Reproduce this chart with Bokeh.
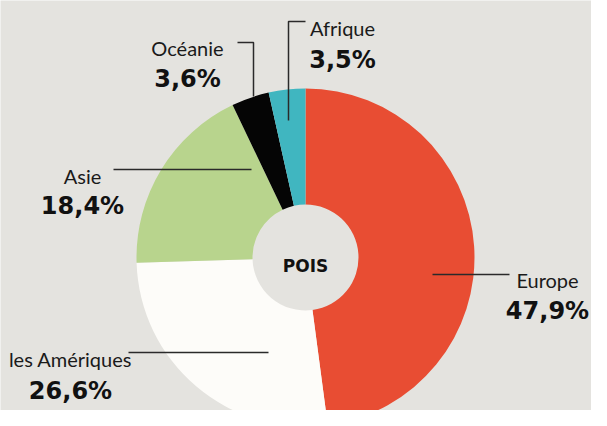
import math
from bokeh.plotting import figure
from bokeh.models import Range1d, ColumnDataSource
from bokeh.core.properties import value
from bokeh.embed import file_html
from bokeh.resources import INLINE

# ---- data ----
regions = ["Europe", "les Amériques", "Asie", "Océanie", "Afrique"]
shares = [47.9, 26.6, 18.4, 3.6, 3.5]
pct_labels = ["47,9%", "26,6%", "18,4%", "3,6%", "3,5%"]
colors = ["#e84d33", "#fdfcf9", "#b8d48d", "#050505", "#40b6c0"]
center_label = "POIS"

# ---- layout (pixel-space, donut centre at origin, y up) ----
W, H = 591, 410
CX, CY = 305, 257          # donut centre in pixels
R_OUT, R_IN = 169, 53

def px(x):  # pixel x -> data x
    return x - CX

def py(y):  # pixel y -> data y
    return CY - y

# label anchors (px): centre x, name baseline, percent baseline
label_x = [547, 70, 82, 187, 342]
name_base = [279, 358, 175, 47, 27]
pct_base = [310, 390, 205, 78, 59]

# leader lines (px) as polylines
leaders = [
    ([432, 509], [274, 274]),
    ([128, 268], [352, 352]),
    ([113, 251], [169, 169]),
    ([237, 253, 253], [42, 42, 96]),
    ([305, 288, 288], [21, 21, 120]),
]

p = figure(width=W, height=H, output_backend="svg", toolbar_location=None,
           x_range=Range1d(px(0), px(W)), y_range=Range1d(py(H), py(0)),
           min_border=0, match_aspect=False)
bg = "#e4e3df"
p.background_fill_color = bg
p.border_fill_color = bg
p.outline_line_color = None
p.axis.visible = False
p.grid.visible = False

total = sum(shares)
starts, ends = [], []
cum = 0.0
for s in shares:
    starts.append(math.pi / 2 - 2 * math.pi * cum / total)
    cum += s
    ends.append(math.pi / 2 - 2 * math.pi * cum / total)

src = ColumnDataSource(dict(start=starts, end=ends, color=colors, region=regions))
p.annular_wedge(x=0, y=0, inner_radius=R_IN, outer_radius=R_OUT,
                start_angle="start", end_angle="end", direction="clock",
                fill_color="color", line_color=None, source=src)

for xs, ys in leaders:
    p.line([px(v) for v in xs], [py(v) for v in ys], line_color="#2a2a2a", line_width=1.5)

p.text(x=[px(v) for v in label_x], y=[py(v) for v in name_base], text=regions,
       text_font=value("Lato"), text_font_size="20px", text_align="center",
       text_baseline="alphabetic", text_color="#1a1a1a")
p.text(x=[px(v) for v in label_x], y=[py(v) for v in pct_base], text=pct_labels,
       text_font=value("DejaVu Sans"), text_font_style="bold", text_font_size="24px",
       text_align="center", text_baseline="alphabetic", text_color="#111111")
p.text(x=[0], y=[py(265)], text=[center_label],
       text_font=value("DejaVu Sans"), text_font_style="bold", text_font_size="17px",
       text_align="center", text_baseline="alphabetic", text_color="#111111")

open("out.html", "w").write(file_html(p, INLINE))
